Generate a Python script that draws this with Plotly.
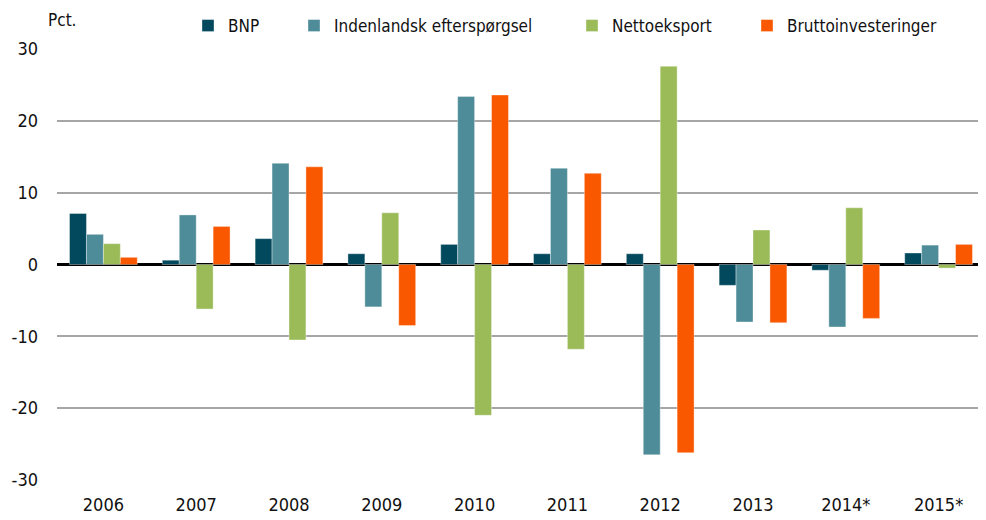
import plotly.graph_objects as go

years = ["2006", "2007", "2008", "2009", "2010", "2011", "2012", "2013", "2014*", "2015*"]
bnp = [7.1, 0.6, 3.6, 1.5, 2.8, 1.5, 1.5, -2.9, -0.8, 1.6]
indenlandsk = [4.2, 6.9, 14.1, -5.9, 23.4, 13.4, -26.5, -8.0, -8.7, 2.7]
nettoeksport = [2.9, -6.2, -10.5, 7.2, -21.0, -11.8, 27.6, 4.8, 7.9, -0.5]
brutto = [1.0, 5.3, 13.6, -8.5, 23.6, 12.7, -26.2, -8.1, -7.5, 2.8]
y_tickvals = [-30, -20, -10, 0, 10, 20, 30]
y_ticktext = ["-30", "-20", "-10", "0", "10", "20", "30"]

series = [
    ("BNP", bnp, "#03495E"),
    ("Indenlandsk efterspørgsel", indenlandsk, "#4E8C99"),
    ("Nettoeksport", nettoeksport, "#9BBB59"),
    ("Bruttoinvesteringer", brutto, "#F95800"),
]
legend_left_px = [180, 286, 564, 739]

FONT = "Liberation Sans Narrow, DejaVu Sans Condensed, Arial Narrow, sans-serif"
# page body has an 8px margin, so the figure is sized to fit the window
W, H = 978, 512
ML, MR, MT, MB = 49, 1, 41, 40
PW, PH = W - ML - MR, H - MT - MB

fig = go.Figure()
legend_layouts = {}
for i, (name, vals, col) in enumerate(series):
    lname = "legend" if i == 0 else f"legend{i + 1}"
    fig.add_trace(go.Bar(
        x=years, y=vals, name=name, legend=lname,
        marker=dict(color=col, line=dict(color="rgba(255,255,255,0.6)", width=0.6)),
    ))
    legend_layouts[lname] = dict(
        orientation="h", xref="container", yref="container",
        x=legend_left_px[i] / W, xanchor="left",
        y=1.0, yanchor="top",
        font=dict(family=FONT, size=17, color="#111111"),
        itemwidth=30, bgcolor="rgba(0,0,0,0)",
    )

fig.update_layout(
    width=W, height=H,
    margin=dict(l=ML, r=MR, t=MT, b=MB, autoexpand=False),
    paper_bgcolor="white", plot_bgcolor="white",
    barmode="group", bargap=0.27, bargroupgap=0,
    font=dict(family=FONT, size=18, color="#111111"),
    showlegend=True,
    xaxis=dict(showgrid=False, showline=False, ticks="", ticklabelstandoff=12, automargin=False),
    yaxis=dict(range=[-30, 30], tickmode="array", tickvals=y_tickvals, ticktext=y_ticktext,
               showgrid=True, gridcolor="#A6A6A6", gridwidth=2,
               zeroline=True, zerolinecolor="#000000", zerolinewidth=3,
               showline=False, ticks="", ticklabelstandoff=18, automargin=False),
    annotations=[dict(text="Pct.", xref="paper", yref="paper",
                      x=(38 - ML) / PW, y=1 + MT / PH,
                      xanchor="left", yanchor="top", showarrow=False,
                      font=dict(family=FONT, size=17, color="#111111"))],
    **legend_layouts,
)

fig.write_html("out.html")
